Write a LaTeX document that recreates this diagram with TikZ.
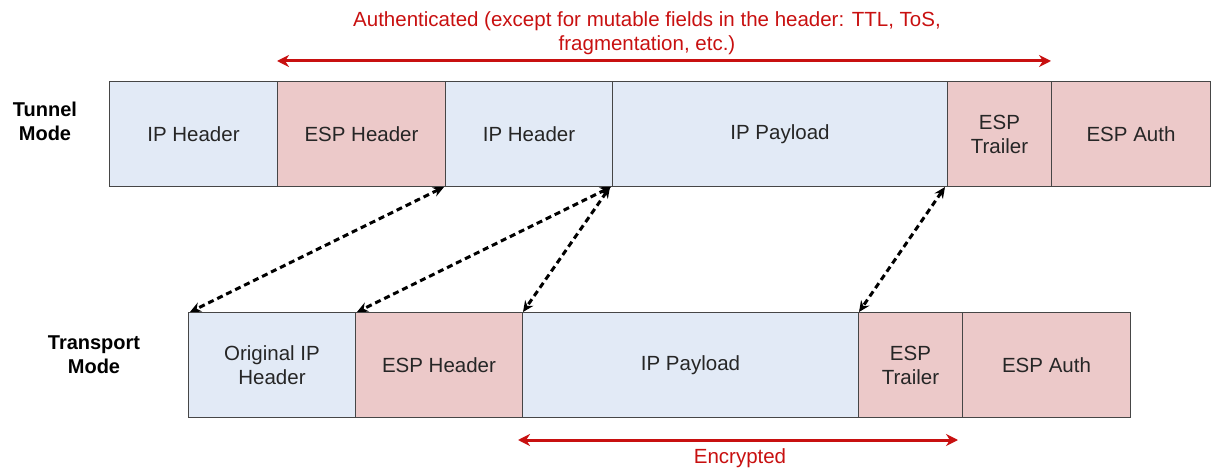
\documentclass[tikz,border=0pt]{standalone}
\usepackage{fontspec}
\setmainfont{Liberation Sans}
\usetikzlibrary{arrows.meta}
\definecolor{ipblue}{RGB}{226,234,246}
\definecolor{esppink}{RGB}{236,201,201}
\definecolor{redtxt}{RGB}{200,16,16}
\definecolor{boxline}{RGB}{70,70,70}
\begin{document}
\begin{tikzpicture}[x=1pt,y=-1pt,
  field/.style={draw=boxline,line width=1pt,inner sep=0pt,anchor=north west,align=center,font=\fontsize{20.5}{24}\selectfont,text=black!85},
  ipbox/.style={field,fill=ipblue},
  espbox/.style={field,fill=esppink},
  modelabel/.style={align=center,font=\fontsize{20}{24}\selectfont\bfseries},
  redarrow/.style={draw=redtxt,line width=3pt,{Stealth[length=12pt,width=12pt]}-{Stealth[length=12pt,width=12pt]}},
  redlabel/.style={text=redtxt,align=center,font=\fontsize{20.5}{24}\selectfont},
  maparrow/.style={draw=black,line width=3pt,dash pattern=on 6pt off 4pt,{Stealth[length=11pt,width=10pt]}-{Stealth[length=11pt,width=10pt]}}
]
\useasboundingbox (0,0) rectangle (1211,470);
% tunnel mode row
\node[ipbox,minimum width=168pt,minimum height=105pt] (t1) at (109,81) {IP Header};
\node[espbox,minimum width=168pt,minimum height=105pt] (t2) at (277,81) {ESP Header};
\node[ipbox,minimum width=167pt,minimum height=105pt] (t3) at (445,81) {IP Header};
\node[ipbox,minimum width=335pt,minimum height=105pt] (t4) at (612,81) {IP Payload};
\node[espbox,minimum width=104pt,minimum height=105pt] (t5) at (947,81) {ESP\\Trailer};
\node[espbox,minimum width=159pt,minimum height=105pt] (t6) at (1051,81) {ESP Auth};
% transport mode row
\node[ipbox,minimum width=167pt,minimum height=105pt] (b1) at (188,312) {Original IP\\Header};
\node[espbox,minimum width=167pt,minimum height=105pt] (b2) at (355,312) {ESP Header};
\node[ipbox,minimum width=336pt,minimum height=105pt] (b3) at (522,312) {IP Payload};
\node[espbox,minimum width=104pt,minimum height=105pt] (b4) at (858,312) {ESP\\Trailer};
\node[espbox,minimum width=168pt,minimum height=105pt] (b5) at (962,312) {ESP Auth};
% mode labels
\node[modelabel] (tm) at (45,121) {Tunnel\\Mode};
\node[modelabel] (pm) at (94,355) {Transport\\Mode};
% authenticated
\coordinate (a1) at (277,61);
\coordinate (a2) at (1051,61);
\draw[redarrow] (a1) -- (a2);
\node[redlabel] (auth) at (647,33) {Authenticated (except for mutable fields in the header: TTL, ToS,\\fragmentation, etc.)};
% encrypted
\coordinate (e1) at (518,440);
\coordinate (e2) at (958,440);
\draw[redarrow] (e1) -- (e2);
\node[redlabel] (enc) at (740,458) {Encrypted};
% mapping arrows
\draw[maparrow] ([xshift=-1pt]t3.south west) -- ([xshift=2pt]b1.north west);
\draw[maparrow] ([xshift=-1pt]t4.south west) -- ([xshift=2pt]b2.north west);
\draw[maparrow] ([xshift=-2pt]t4.south west) -- ([xshift=1pt]b3.north west);
\draw[maparrow] ([xshift=-2pt]t5.south west) -- ([xshift=1pt]b4.north west);
\end{tikzpicture}
\end{document}
